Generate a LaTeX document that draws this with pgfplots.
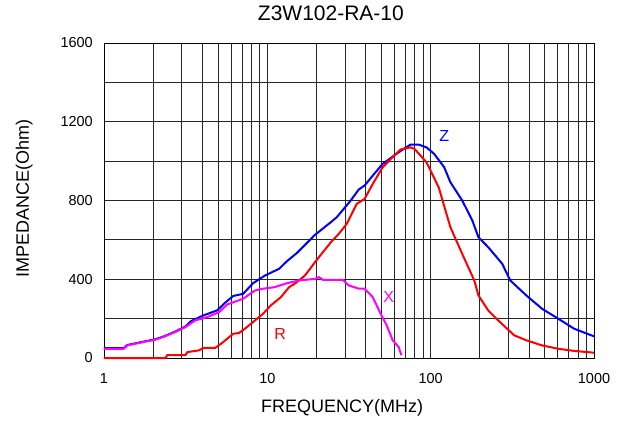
\documentclass[border=0pt]{standalone}
\usepackage{fontspec}
\setmainfont{Liberation Sans}
\usepackage{pgfplots}
\pgfplotsset{compat=1.18}

\definecolor{zblue}{RGB}{0,0,255}
\definecolor{rred}{RGB}{255,0,0}
\definecolor{xmag}{RGB}{255,0,255}

\begin{document}
\begin{tikzpicture}
\begin{axis}[name=ax,
  scale only axis,
  width=490pt, height=315pt,
  xmode=log, xmin=1, xmax=1000,
  ymin=0, ymax=1600,
  xtick={1,10,100,1000},
  xticklabels={1,10,100,1000},
  ytick={0,400,...,1600},
  minor ytick={200,600,1000,1400},
  /pgf/number format/1000 sep={},
  grid=both,
  major grid style={black!85, line width=0.9pt},
  minor grid style={black!85, line width=0.9pt},
  axis line style={black, line width=0.9pt},
  major tick length=0pt, minor tick length=0pt,
  /pgf/number format/assume math mode=true,
  xticklabel style={font=\fontsize{14.5}{16}\selectfont, inner sep=0pt, yshift=-15pt},
  yticklabel style={font=\fontsize{14.5}{16}\selectfont, inner sep=0pt, xshift=-11pt},
  title={Z3W102-RA-10},
  title style={font=\fontsize{21}{24}\selectfont, at={(0.463,1)}, anchor=center, yshift=24pt},
  xlabel={FREQUENCY(MHz)},
  xlabel style={font=\fontsize{18}{20}\selectfont, at={(0.486,0)}, anchor=center, yshift=-50pt},
  ylabel={IMPEDANCE(Ohm)},
  ylabel style={font=\fontsize{18}{20}\selectfont, at={(axis description cs:-0.163,0.505)}, anchor=center},
  clip=false,
]
% Z
\addplot[zblue, line width=2pt] coordinates {
 (1,50) (1.32,50) (1.39,66) (1.74,83) (2.06,95) (2.31,109) (2.73,134) (3.15,160)
 (3.42,188) (4.05,216) (4.93,242) (5.5,280) (6.18,315) (7.11,326) (8.18,380) (9.68,419)
 (11.8,453) (13.2,492) (15.2,534) (19.6,626) (24.5,690) (26.6,715) (32.4,800)
 (36.3,856) (39.4,876) (45.4,938) (50.8,986) (63.7,1045) (75.3,1084) (84.3,1084)
 (94.3,1070) (105,1037) (121,969) (132,893) (156,800) (180,698) (196,614) (225,563)
 (274,479) (307,394) (385,318) (481,250) (603,200) (755,149) (1000,110)
};
% R
\addplot[rred, line width=2pt] coordinates {
 (1,0) (2.38,0) (2.44,14) (3.15,14) (3.24,30) (3.83,39) (4.05,51) (4.8,51) (5.37,81)
 (6.18,123) (6.71,127) (7.3,149) (8.41,191) (9.42,225) (10.5,267) (12.1,309)
 (13.6,360) (14.7,377) (17.0,419) (19.6,487) (21.9,538) (24.5,588) (27.4,631)
 (30.6,681) (35.3,783) (39.4,808) (44.2,884) (50.8,969) (58.5,1020) (65.5,1059)
 (75.3,1070) (79.7,1062) (94.3,994) (112,867) (132,665) (156,529) (185,394)
 (196,318) (225,242) (259,191) (325,115) (385,90) (481,64) (603,47) (755,36) (1000,27)
};
% X
\addplot[xmag, line width=2pt] coordinates {
 (1,47) (1.32,47) (1.39,64) (1.74,81) (2.06,93) (2.31,107) (2.73,132) (3.15,157)
 (3.62,191) (4.29,208) (5.07,233) (5.68,272) (7.11,301) (8.41,343) (9.42,352)
 (11.1,360) (13.2,380) (15.6,394) (19.6,402) (20.7,411) (21.9,397) (29.0,397)
 (31.5,369) (36.3,352) (39.4,352) (44.2,309) (49.4,225) (53.8,166) (58.5,90)
 (63.7,56) (66.2,14)
};
\node[zblue, font=\fontsize{16}{18}\selectfont] at (axis cs:121,1130) {Z};
\node[rred, font=\fontsize{16}{18}\selectfont] at (axis cs:12.0,123) {R};
\node[xmag, font=\fontsize{16}{18}\selectfont] at (axis cs:55.3,309) {X};
\end{axis}
\pgfresetboundingbox
\path ([shift={(-104pt,-63pt)}]ax.south west) rectangle ([shift={(29pt,43pt)}]ax.north east);
\end{tikzpicture}
\end{document}
